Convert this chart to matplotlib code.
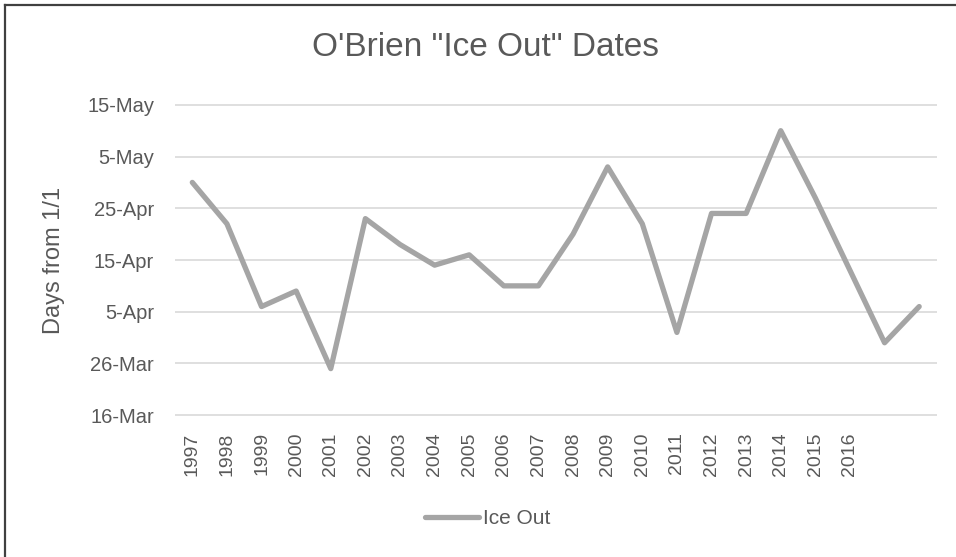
import matplotlib
matplotlib.use("Agg")
import matplotlib.pyplot as plt
from matplotlib.lines import Line2D

years = ["1997", "1998", "1999", "2000", "2001", "2002", "2003", "2004", "2005", "2006",
         "2007", "2008", "2009", "2010", "2011", "2012", "2013", "2014", "2015", "2016", "", ""]
ice_out = [120, 112, 96, 99, 84, 113, 108, 104, 106, 100,
           100, 110, 123, 112, 91, 114, 114, 130, 117, 103, 89, 96]
ytick_vals = [75, 85, 95, 105, 115, 125, 135]
ytick_labels = ["16-Mar", "26-Mar", "5-Apr", "15-Apr", "25-Apr", "5-May", "15-May"]

plt.rcParams['font.family'] = ['Liberation Sans', 'DejaVu Sans']
txt = "#595959"
W, H = 956, 557
fig = plt.figure(figsize=(W / 100, H / 100), dpi=100)
ax = fig.add_axes([175/W, 1-415.7/H, (936.5-175)/W, (415.7-104.3)/H])

x = list(range(len(ice_out)))
ax.plot(x, ice_out, color="#A5A5A5", lw=3.8, solid_joinstyle="round",
        solid_capstyle="round", label="Ice Out", zorder=3)
ax.set_xlim(-0.5, len(ice_out) - 0.5)
ax.set_ylim(74.9, 135.1)
ax.set_yticks(ytick_vals)
ax.set_yticklabels(ytick_labels, color=txt, fontsize=14.5)
ax.set_xticks(x)
ax.set_xticklabels(years, rotation=90, color=txt, fontsize=14)
ax.tick_params(axis="y", length=0, pad=15)
ax.tick_params(axis="x", length=0, pad=12)
ax.grid(axis="y", color="#D9D9D9", lw=1.2)
ax.grid(axis="x", visible=False)
for s in ax.spines.values():
    s.set_visible(False)
ax.set_ylabel("Days from 1/1", color=txt, fontsize=17)
ax.yaxis.set_label_coords((65 - 175) / (936.5 - 175), (557 - 260 - (557 - 415.7)) / (415.7 - 104.3))

fig.text(485/W, 1 - 47/H, "O'Brien \"Ice Out\" Dates", ha="center", va="center",
         fontsize=24, color=txt)

fig.legend(loc="center", bbox_to_anchor=(488/W, 1-519/H), frameon=False,
           handlelength=2.6, handletextpad=0.2, fontsize=15, labelcolor=txt)

fig.lines.append(Line2D([5/W, 5/W], [0, 1 - 5/H], transform=fig.transFigure,
                        color="#404040", lw=1.6))
fig.lines.append(Line2D([5/W, 1], [1 - 5/H, 1 - 5/H], transform=fig.transFigure,
                        color="#404040", lw=1.6))
fig.savefig("out.png", dpi=100)
